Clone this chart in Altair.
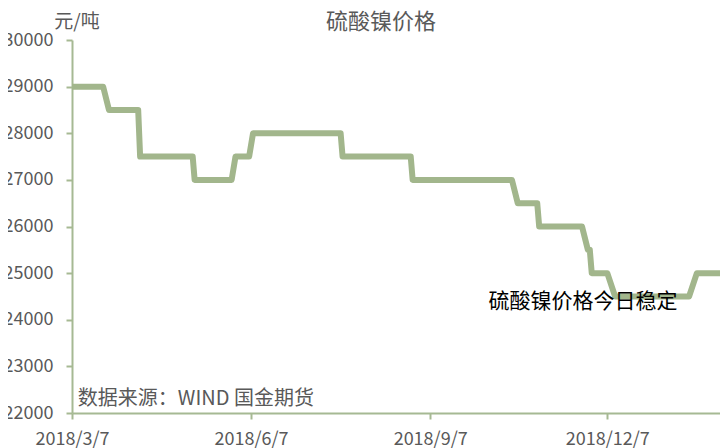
import altair as alt
import pandas as pd

# step series of nickel sulphate price (元/吨)
dates = ["2018-03-07", "2018-03-23", "2018-03-26", "2018-04-10", "2018-04-11",
         "2018-05-08", "2018-05-09", "2018-05-28", "2018-05-30", "2018-06-06",
         "2018-06-08", "2018-07-23", "2018-07-24", "2018-08-28", "2018-08-29",
         "2018-10-19", "2018-10-22", "2018-11-01", "2018-11-02", "2018-11-24",
         "2018-11-27", "2018-11-28", "2018-11-29", "2018-12-07", "2018-12-11",
         "2019-01-18", "2019-01-22", "2019-02-12"]
prices = [29000, 29000, 28500, 28500, 27500,
          27500, 27000, 27000, 27500, 27500,
          28000, 28000, 27500, 27500, 27000,
          27000, 26500, 26500, 26000, 26000,
          25500, 25500, 25000, 25000, 24500,
          24500, 25000, 25000]

note_texts = ["硫酸镍价格今日稳定", "数据来源：WIND 国金期货"]
note_dates = ["2018-10-07", "2018-03-10"]
note_prices = [24380, 22300]
note_sizes = [21, 20]
note_colors = ["#000000", "#595959"]

tick_dates = [(2018, 3, 7), (2018, 6, 7), (2018, 9, 7), (2018, 12, 7)]

title_text = "硫酸镍价格"
unit_text = "元/吨"

df = pd.DataFrame({"date": dates, "price": prices})
notes = pd.DataFrame({"text": note_texts, "date": note_dates, "price": note_prices,
                      "size": note_sizes, "color": note_colors})

FONT = "Noto Sans CJK SC"
GREEN = "#A2B68C"
AXIS_GREEN = "#A6B993"
GREY = "#595959"

xscale = alt.Scale(type="utc",
                   domain=[alt.DateTime(year=2018, month=3, date=7, utc=True),
                           alt.DateTime(year=2019, month=2, date=7, utc=True)])
yscale = alt.Scale(domain=[22000, 30000])

x_axis = alt.Axis(values=[alt.DateTime(year=y, month=m, date=d, utc=True) for y, m, d in tick_dates],
                  labelExpr="utcFormat(datum.value, '%Y/%-m/%-d')",
                  grid=False, title=None, domainColor=AXIS_GREEN, domainWidth=2,
                  tickColor=AXIS_GREEN, tickWidth=2, tickSize=6, labelPadding=25,
                  labelBaseline="alphabetic",
                  labelFont=FONT, labelFontSize=18, labelColor=GREY,
                  labelFlush=False, labelOverlap=False)
y_axis = alt.Axis(values=list(range(22000, 30001, 1000)), format="d",
                  grid=False, title=None, domainColor=AXIS_GREEN, domainWidth=2,
                  tickColor=AXIS_GREEN, tickWidth=2, tickSize=6, labelPadding=13,
                  labelFont=FONT, labelFontSize=18, labelColor=GREY)

line = alt.Chart(df).mark_line(color=GREEN, strokeWidth=6, strokeJoin="round",
                               clip=True).encode(
    x=alt.X("date:T", scale=xscale, axis=x_axis),
    y=alt.Y("price:Q", scale=yscale, axis=y_axis),
)

text = alt.Chart(notes).mark_text(align="left", baseline="middle", font=FONT).encode(
    x=alt.X("date:T", scale=xscale),
    y=alt.Y("price:Q", scale=yscale),
    text="text:N",
    size=alt.Size("size:Q", scale=None, legend=None),
    color=alt.Color("color:N", scale=None, legend=None),
)

title = alt.Chart(pd.DataFrame({"t": [title_text]})).mark_text(
    font=FONT, fontSize=22, color=GREY, align="center", baseline="middle"
).encode(text="t:N", x=alt.value(309), y=alt.value(-18))

unit = alt.Chart(pd.DataFrame({"t": [unit_text]})).mark_text(
    font=FONT, fontSize=19, color=GREY, align="center", baseline="middle"
).encode(text="t:N", x=alt.value(5), y=alt.value(-18))

chart = alt.layer(line, text, title, unit).properties(
    width=656, height=373,
    autosize=alt.AutoSizeParams(type="none"),
    padding={"left": 64, "top": 32, "right": -8, "bottom": 35},
).configure_view(stroke=None)

chart.save("out.html", embed_options={"renderer": "svg", "actions": False})
